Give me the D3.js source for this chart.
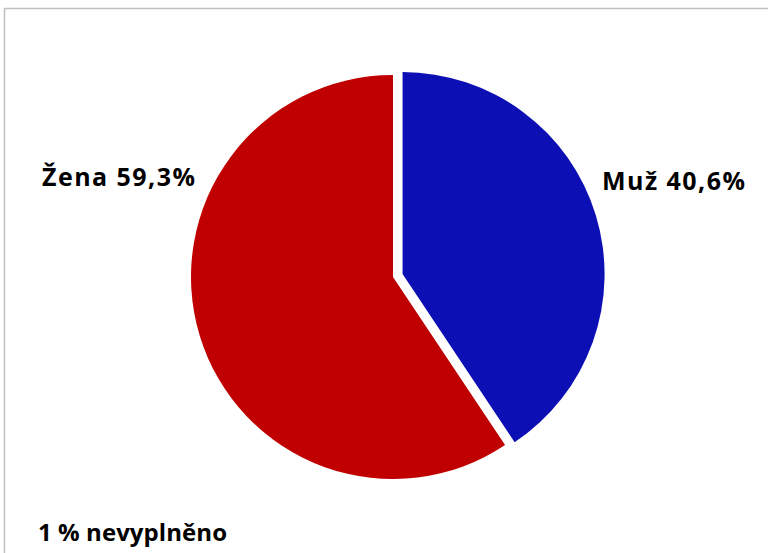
<!DOCTYPE html>
<html>
<head>
<meta charset="utf-8">
<script src="https://cdn.jsdelivr.net/npm/d3@7"></script>
<style>
  body { margin: 0; background: #fff; }
  text { font-family: "Open Sans", sans-serif; font-weight: bold; fill: #000; }
</style>
</head>
<body>
<div id="chart"></div>
<script>
var labels = ["Muž", "Žena"]
var values = [40.6, 59.3]
var valueLabels = ["40,6%", "59,3%"]
var colors = ["#0b0fb4", "#c00000"]
var note = "1 % nevyplněno"

function draw_pie(){
    var width = 768
    var height = 553
    var svg = d3.select("#chart").append("svg")
      .attr("width", width)
      .attr("height", height)

    // chart frame (runs off the right and bottom edge)
    svg.append("rect")
      .attr("x", 4.5).attr("y", 8.5)
      .attr("width", 800).attr("height", 600)
      .attr("fill", "none")
      .attr("stroke", "#bfbfbf")
      .attr("stroke-width", 1.5)

    var cx = 393, cy = 277, r = 202
    var pie = d3.pie().sort(null)(values)
    var arc = d3.arc().innerRadius(0).outerRadius(r)

    var g = svg.append("g").attr("transform", "translate(" + cx + "," + cy + ")")
    g.selectAll("path")
      .data(pie)
      .enter().append("path")
      .attr("d", arc)
      .attr("fill", function(d, i){ return colors[i] })
      .attr("transform", function(d, i){
          if (i != 0) return null
          var a = (d.startAngle + d.endAngle) / 2
          var off = 10
          return "translate(" + (Math.sin(a) * off) + "," + (-Math.cos(a) * off) + ")"
      })

    // labels are Calibri in the original, so stretch Open Sans a bit
    svg.append("text")
      .attr("x", 602).attr("y", 190)
      .attr("textLength", 143).attr("lengthAdjust", "spacing")
      .style("font-size", "25px")
      .text(labels[0] + " " + valueLabels[0])

    svg.append("text")
      .attr("x", 42).attr("y", 186)
      .attr("textLength", 153).attr("lengthAdjust", "spacing")
      .style("font-size", "25px")
      .text(labels[1] + " " + valueLabels[1])

    svg.append("text")
      .attr("x", 38).attr("y", 541)
      .attr("textLength", 189).attr("lengthAdjust", "spacing")
      .style("font-size", "24px")
      .text(note)
}
draw_pie()
</script>
</body>
</html>
